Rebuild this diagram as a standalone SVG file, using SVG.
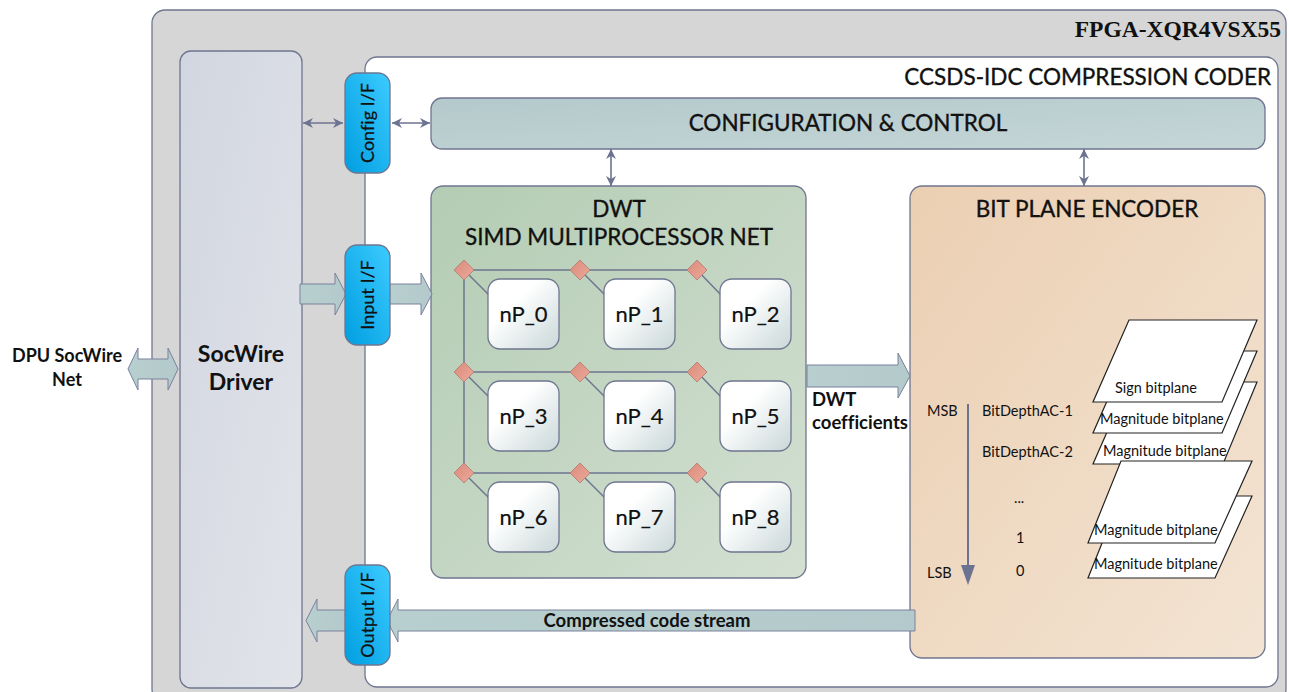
<svg xmlns="http://www.w3.org/2000/svg" width="1289" height="692" viewBox="0 0 1289 692">
  <defs>
    <linearGradient id="gDriver" x1="0" y1="0" x2="1" y2="1">
      <stop offset="0" stop-color="#d2d6e0"/>
      <stop offset="1" stop-color="#e2e4ea"/>
    </linearGradient>
    <linearGradient id="gIf" x1="0" y1="1" x2="1" y2="0">
      <stop offset="0" stop-color="#009ee0"/>
      <stop offset="1" stop-color="#3ccbff"/>
    </linearGradient>
    <linearGradient id="gCtrl" x1="0" y1="0" x2="1" y2="1">
      <stop offset="0" stop-color="#b3c9cb"/>
      <stop offset="1" stop-color="#c6d6d7"/>
    </linearGradient>
    <linearGradient id="gDwt" x1="0" y1="0" x2="1" y2="1">
      <stop offset="0" stop-color="#b4ccb3"/>
      <stop offset="1" stop-color="#d3e0d2"/>
    </linearGradient>
    <linearGradient id="gBpe" x1="0" y1="0" x2="1" y2="1">
      <stop offset="0" stop-color="#ebcfb2"/>
      <stop offset="1" stop-color="#f3e4d3"/>
    </linearGradient>
    <linearGradient id="gNode" x1="0" y1="0" x2="1" y2="1">
      <stop offset="0.35" stop-color="#ffffff"/>
      <stop offset="1" stop-color="#c9d7d8"/>
    </linearGradient>
    <linearGradient id="gDiamond" x1="0" y1="0" x2="1" y2="1">
      <stop offset="0" stop-color="#dc8a7a"/>
      <stop offset="1" stop-color="#ebaa9b"/>
    </linearGradient>
    <linearGradient id="gBlock" x1="0" y1="0" x2="1" y2="0">
      <stop offset="0" stop-color="#b8cfcf"/>
      <stop offset="1" stop-color="#b3c9cb"/>
    </linearGradient>
    <marker id="ah" viewBox="0 0 10 10" refX="10" refY="5" markerWidth="10" markerHeight="10" markerUnits="userSpaceOnUse" orient="auto-start-reverse">
      <path d="M0,0 L10,5 L0,10 L3,5 Z" fill="#6c7390"/>
    </marker>
    <g id="diamond">
      <path d="M0,-10 L10,0 L0,10 L-10,0 Z" fill="url(#gDiamond)" stroke="#b07a70" stroke-width="0.8"/>
    </g>
  </defs>
  <style>
    .frame { stroke: #6f7690; stroke-width: 1.3; }
    .t { font-family: Lato, "Open Sans", "Liberation Sans", sans-serif; fill: #111; font-variant-ligatures: none; font-feature-settings: "liga" 0; }
    .title { font-size: 22.5px; stroke: #111; stroke-width: 0.35px; }
    .ifl { font-size: 18px; stroke: #111; stroke-width: 0.25px; }
    .np { font-size: 22px; stroke: #111; stroke-width: 0.2px; }
    .small { font-size: 14.5px; }
    .bold { font-weight: 700; }
    .bus { stroke: #6f7690; stroke-width: 1.5; fill: none; }
    .dbl { stroke: #6c7390; stroke-width: 1.6; fill: none; marker-start: url(#ah); marker-end: url(#ah); }
    .block { fill: url(#gBlock); stroke: #7a819c; stroke-width: 1; }
    .plane { fill: #ffffff; stroke: #222; stroke-width: 1.2; }
  </style>

  <!-- FPGA device -->
  <g id="fpga">
    <rect x="152" y="10" width="1134" height="692" rx="13" fill="#d6d6d6" class="frame"/>
    <text x="1281" y="37" text-anchor="end" font-family="'Liberation Serif', serif" font-weight="700" font-size="23.5" fill="#111">FPGA-XQR4VSX55</text>
  </g>

  <!-- SocWire driver -->
  <g id="socwire-driver">
    <rect x="180" y="51" width="122" height="637" rx="11" fill="url(#gDriver)" class="frame"/>
    <text class="t bold" x="241" y="362" text-anchor="middle" font-size="23">SocWire</text>
    <text class="t bold" x="241" y="390" text-anchor="middle" font-size="23">Driver</text>
  </g>

  <!-- Compression coder container -->
  <g id="ccsds-coder">
    <rect x="365" y="57" width="913" height="630" rx="12" fill="#ffffff" class="frame"/>
    <text class="t title" x="1271" y="85" text-anchor="end">CCSDS-IDC COMPRESSION CODER</text>
  </g>

  <!-- Configuration and control -->
  <g id="config-control">
    <rect x="431" y="98" width="834" height="51" rx="11" fill="url(#gCtrl)" class="frame"/>
    <text class="t title" x="848" y="131" text-anchor="middle">CONFIGURATION &amp; CONTROL</text>
  </g>

  <!-- DWT multiprocessor -->
  <g id="dwt">
    <rect x="431" y="186" width="375" height="392" rx="12" fill="url(#gDwt)" class="frame"/>
    <text class="t title" x="619" y="217" text-anchor="middle">DWT</text>
    <text class="t title" x="619" y="245" text-anchor="middle">SIMD MULTIPROCESSOR NET</text>
  </g>

  <!-- Processor interconnect -->
  <g id="dwt-network">
    <path class="bus" d="M464,270 H697 M464,372 H697 M464,473 H697 M464,270 V473"/>
    <path class="bus" d="M464,270 L490,296 M580,270 L606,296 M697,270 L722,296 M464,372 L490,398 M580,372 L606,398 M697,372 L722,398 M464,473 L490,499 M580,473 L606,499 M697,473 L722,499"/>
    <use href="#diamond" x="464" y="270"/>
    <use href="#diamond" x="580" y="270"/>
    <use href="#diamond" x="697" y="270"/>
    <use href="#diamond" x="464" y="372"/>
    <use href="#diamond" x="580" y="372"/>
    <use href="#diamond" x="697" y="372"/>
    <use href="#diamond" x="464" y="473"/>
    <use href="#diamond" x="580" y="473"/>
    <use href="#diamond" x="697" y="473"/>
  </g>

  <g id="nP_0"><rect x="488" y="279" width="71" height="70" rx="12" fill="url(#gNode)" class="frame"/><text class="t np" x="523.5" y="322" text-anchor="middle">nP_0</text></g>
  <g id="nP_1"><rect x="604" y="279" width="71" height="70" rx="12" fill="url(#gNode)" class="frame"/><text class="t np" x="639.5" y="322" text-anchor="middle">nP_1</text></g>
  <g id="nP_2"><rect x="720" y="279" width="71" height="70" rx="12" fill="url(#gNode)" class="frame"/><text class="t np" x="755.5" y="322" text-anchor="middle">nP_2</text></g>
  <g id="nP_3"><rect x="488" y="381" width="71" height="70" rx="12" fill="url(#gNode)" class="frame"/><text class="t np" x="523.5" y="424" text-anchor="middle">nP_3</text></g>
  <g id="nP_4"><rect x="604" y="381" width="71" height="70" rx="12" fill="url(#gNode)" class="frame"/><text class="t np" x="639.5" y="424" text-anchor="middle">nP_4</text></g>
  <g id="nP_5"><rect x="720" y="381" width="71" height="70" rx="12" fill="url(#gNode)" class="frame"/><text class="t np" x="755.5" y="424" text-anchor="middle">nP_5</text></g>
  <g id="nP_6"><rect x="488" y="482" width="71" height="70" rx="12" fill="url(#gNode)" class="frame"/><text class="t np" x="523.5" y="525" text-anchor="middle">nP_6</text></g>
  <g id="nP_7"><rect x="604" y="482" width="71" height="70" rx="12" fill="url(#gNode)" class="frame"/><text class="t np" x="639.5" y="525" text-anchor="middle">nP_7</text></g>
  <g id="nP_8"><rect x="720" y="482" width="71" height="70" rx="12" fill="url(#gNode)" class="frame"/><text class="t np" x="755.5" y="525" text-anchor="middle">nP_8</text></g>

  <!-- Bit plane encoder -->
  <g id="bpe">
    <rect x="910" y="186" width="355" height="472" rx="12" fill="url(#gBpe)" class="frame"/>
    <text class="t title" x="1087" y="217" text-anchor="middle">BIT PLANE ENCODER</text>
    <!-- significance order -->
    <line x1="968" y1="404" x2="968" y2="568" stroke="#6c7390" stroke-width="2"/>
    <path d="M961,565 H975 L968,585 Z" fill="#6c7390"/>
    <text class="t small" x="927" y="416">MSB</text>
    <text class="t small" x="927" y="578">LSB</text>
    <text class="t small" x="982" y="416">BitDepthAC-1</text>
    <text class="t small" x="982" y="457">BitDepthAC-2</text>
    <text class="t small" x="1014" y="503">...</text>
    <text class="t small" x="1016" y="543">1</text>
    <text class="t small" x="1016" y="576">0</text>
    <!-- upper stack of bitplanes -->
    <path class="plane" d="M1129,382 H1257 L1223,464 H1093 Z"/>
    <text class="t small" x="1103" y="456">Magnitude bitplane</text>
    <path class="plane" d="M1129,351 H1257 L1222,433 H1093 Z"/>
    <text class="t small" x="1100" y="424">Magnitude bitplane</text>
    <path class="plane" d="M1129,320 H1257 L1222,402 H1093 Z"/>
    <text class="t small" x="1115" y="393">Sign bitplane</text>
    <!-- lower stack of bitplanes -->
    <path class="plane" d="M1121,496 H1252 L1215,578 H1088 Z"/>
    <text class="t small" x="1094" y="569">Magnitude bitplane</text>
    <path class="plane" d="M1121,461 H1252 L1215,543 H1088 Z"/>
    <text class="t small" x="1094" y="535">Magnitude bitplane</text>
  </g>

  <!-- Interface blocks -->
  <g id="config-if">
    <rect x="345" y="73" width="45" height="100" rx="12" fill="url(#gIf)" class="frame"/>
    <text class="t ifl" transform="translate(374,123) rotate(-90)" text-anchor="middle">Config I/F</text>
  </g>

  <!-- Data connectors -->
  <g id="connectors">
    <line class="dbl" x1="303" y1="123" x2="343" y2="123"/>
    <line class="dbl" x1="392" y1="123" x2="430" y2="123"/>
    <line class="dbl" x1="611" y1="149" x2="611" y2="186"/>
    <line class="dbl" x1="1084" y1="149" x2="1084" y2="186"/>
    <path class="block" d="M128,369 L138,348 V359 H168 V348 L178,369 L168,390 V379 H138 V390 Z"/>
    <path class="block" d="M300,284 H335 V273 L346,294 L335,315 V304 H300 Z"/>
    <path class="block" d="M388,284 H421 V273 L432,294 L421,315 V304 H388 Z"/>
    <path class="block" d="M807,365 H898 V353 L910,376 L898,398 V387 H807 Z"/>
    <path class="block" d="M915,610 H398 V599 L387,620.5 L398,642 V631 H915 Z"/>
    <path class="block" d="M346,610 H317 V599 L306,620.5 L317,642 V631 H346 Z"/>
  </g>

  <g id="input-if">
    <rect x="345" y="245" width="45" height="100" rx="12" fill="url(#gIf)" class="frame"/>
    <text class="t ifl" transform="translate(374,295) rotate(-90)" text-anchor="middle">Input I/F</text>
  </g>
  <g id="output-if">
    <rect x="345" y="565" width="45" height="100" rx="12" fill="url(#gIf)" class="frame"/>
    <text class="t ifl" transform="translate(374,615) rotate(-90)" text-anchor="middle">Output I/F</text>
  </g>

  <!-- Connector labels -->
  <g id="labels">
    <text class="t bold" x="67" y="362" text-anchor="middle" font-size="18">DPU SocWire</text>
    <text class="t bold" x="67" y="386" text-anchor="middle" font-size="18">Net</text>
    <text class="t bold" x="812" y="406" font-size="18.5">DWT</text>
    <text class="t bold" x="812" y="429" font-size="18.5">coefficients</text>
    <text class="t bold" x="647" y="627" text-anchor="middle" font-size="18.5">Compressed code stream</text>
  </g>
</svg>
